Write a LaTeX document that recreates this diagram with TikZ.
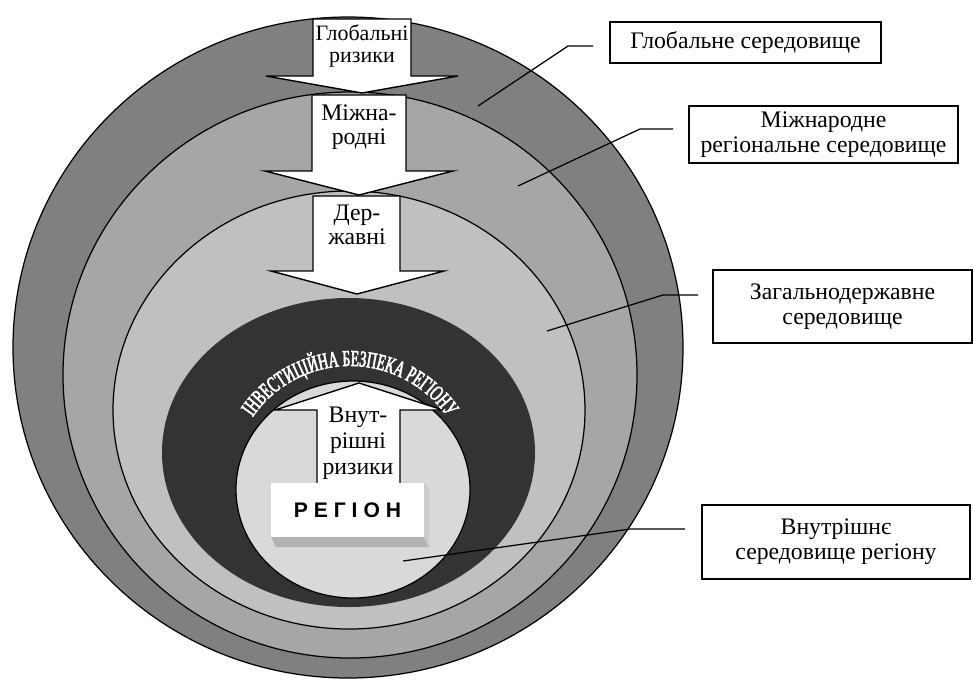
\documentclass[tikz,border=0pt]{standalone}
\usepackage{xcolor}
\usepackage{fontspec}
\setmainfont{Liberation Serif}
\newfontfamily\regionfont[LetterSpace=28]{Liberation Sans}
\newfontfamily\wordartfont[FakeStretch=0.6,FakeBold=2.5]{Liberation Serif}
\usepackage{tikz}
\usetikzlibrary{decorations.text}

\definecolor{globalgray}{HTML}{808080}
\definecolor{intlgray}{HTML}{A6A6A6}
\definecolor{stategray}{HTML}{C0C0C0}
\definecolor{securitygray}{HTML}{333333}
\definecolor{regiongray}{HTML}{D9D9D9}

\tikzset{
  ring/.style={draw=black, line width=0.7pt},
  riskarrow/.style={draw=black, fill=white, line width=0.8pt, line join=miter},
  risktext/.style={align=center, inner sep=0pt, font=\fontsize{13.5}{14}\selectfont},
  envbox/.style={draw=black, line width=0.6pt, fill=white, align=center, inner sep=0pt,
    font=\fontsize{13.5}{14.2}\selectfont},
  regionplate/.style={fill=white, inner sep=0pt, minimum width=30.6mm, minimum height=10.8mm,
    font=\regionfont\bfseries\fontsize{12}{12}\selectfont},
  leader/.style={draw=black, line width=0.7pt}
}

\begin{document}
\begin{tikzpicture}[x=0.2mm, y=-0.2mm]
                    \useasboundingbox (0,0) rectangle (973,680);
                    % Environments
                    \draw[ring, fill=globalgray] (348,347.5) ellipse [x radius=335, y radius=330.5];
                    \draw[ring, fill=intlgray] (350,375) ellipse [x radius=287, y radius=283];
                    \draw[ring, fill=stategray] (349,410) ellipse [x radius=236, y radius=219];
                    \fill[securitygray] (348.5,452.5) ellipse [x radius=186.5, y radius=154.5];
                    \draw[ring, fill=regiongray] (353,489.5) ellipse [x radius=117, y radius=108.5];
                    % Risk arrows
                    \draw[riskarrow] (313,19) -- (411,19) -- (411,76) -- (458,76) -- (362,93)
                      -- (266,76) -- (313,76) -- cycle;
                    \draw[riskarrow] (312,95) -- (406,95) -- (406,171) -- (453,171) -- (359,195)
                      -- (265,171) -- (312,171) -- cycle;
                    \draw[riskarrow] (313,196) -- (400,196) -- (400,271) -- (444,271) -- (357,294)
                      -- (271,271) -- (313,271) -- cycle;
                    \draw[riskarrow] (317,490) -- (317,410) -- (275,410) -- (359,383) -- (443,410)
                      -- (400,410) -- (400,490) -- cycle;
                    % Risk names
                    \node[risktext, font=\fontsize{12.5}{12.5}\selectfont] (globrisk) at (362,46) {Глобальні\\ризики};
                    \node[risktext] (intlrisk) at (359,127) {Міжна-\\родні};
                    \node[risktext] (staterisk) at (357,225) {Дер-\\жавні};
                    \node[risktext, font=\fontsize{13.5}{14.8}\selectfont] (innerrisk) at (358,443) {Внут-\\рішні\\ризики};
                    % Security arc
                    \path[decorate, decoration={text along path, text align=center, text color=white,
                      text={|\wordartfont\fontsize{13}{13}\selectfont|ІНВЕСТИЦІЙНА БЕЗПЕКА РЕГІОНУ}}]
                      (350,484) ++(-155:118) arc[start angle=-155, end angle=-25, radius=118];
                    % Region plate
                    \fill[gray!60] (271,537) -- (424,537) -- (429,547) -- (276,547) -- cycle;
                    \fill[gray!40] (424,483) -- (429,489) -- (429,547) -- (424,537) -- cycle;
                    \node[regionplate] (region) at (347.5,510) {РЕГІОН};
                    % Leaders
                    \coordinate (globstart) at (593,46);
                    \coordinate (globbend) at (568,46);
                    \coordinate (globend) at (478,106);
                    \coordinate (intlstart) at (673,129);
                    \coordinate (intlbend) at (640,129);
                    \coordinate (intlend) at (518,186);
                    \coordinate (statestart) at (698,295);
                    \coordinate (statebend) at (663,295);
                    \coordinate (stateend) at (547,331);
                    \coordinate (innerstart) at (685,529);
                    \coordinate (innerbend) at (630,529);
                    \coordinate (innerend) at (403,561);
                    \draw[leader] (globstart) -- (globbend) -- (globend);
                    \draw[leader] (intlstart) -- (intlbend) -- (intlend);
                    \draw[leader] (statestart) -- (statebend) -- (stateend);
                    \draw[leader] (innerstart) -- (innerbend) -- (innerend);
                    % Environment names
                    \node[envbox, minimum width=54.2mm, minimum height=8.2mm] (globbox) at (745.5,42.5) {Глобальне середовище};
                    \node[envbox, minimum width=53.8mm, minimum height=11.4mm] (intlbox) at (823.5,134.5) {Міжнародне\\регіональне середовище};
                    \node[envbox, minimum width=51.8mm, minimum height=14.6mm] (statebox) at (842.5,306.5) {Загальнодержавне\\середовище};
                    \node[envbox, minimum width=53.6mm, minimum height=14.8mm] (innerbox) at (836,542) {Внутрішнє\\середовище регіону};
                \end{tikzpicture}
\end{document}
